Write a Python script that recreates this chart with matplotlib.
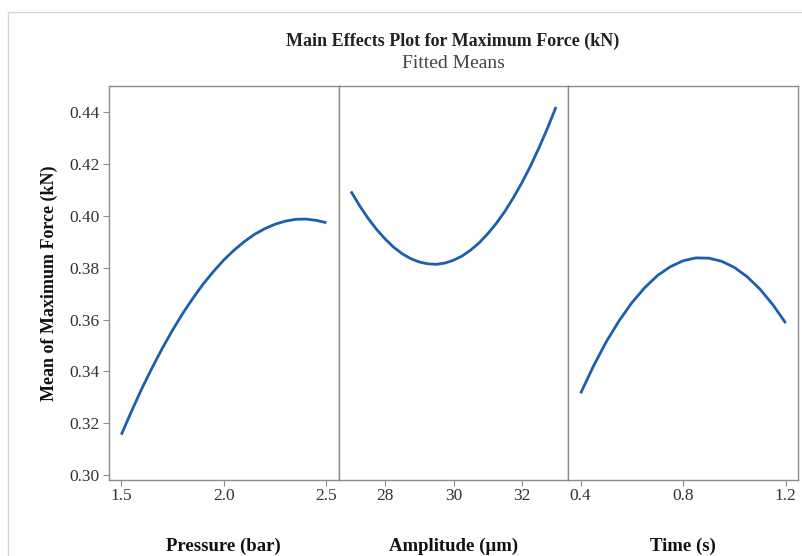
import matplotlib.pyplot as plt
from matplotlib.patches import Rectangle

plt.rcParams['font.family'] = ['Liberation Serif', 'DejaVu Serif']

# Pressure (bar) fitted means
pressure = [1.50, 1.55, 1.60, 1.65, 1.70, 1.75, 1.80, 1.85, 1.90, 1.95, 2.00,
            2.05, 2.10, 2.15, 2.20, 2.25, 2.30, 2.35, 2.40, 2.45, 2.50]
force_p = [0.3155, 0.3246, 0.3333, 0.3413, 0.3489, 0.3559, 0.3624, 0.3683, 0.3738, 0.3786, 0.3830,
           0.3868, 0.3901, 0.3929, 0.3951, 0.3968, 0.3980, 0.3987, 0.3988, 0.3983, 0.3974]

# Amplitude (um) fitted means
amplitude = [27.0, 27.25, 27.5, 27.75, 28.0, 28.25, 28.5, 28.75, 29.0, 29.25, 29.5, 29.75,
             30.0, 30.25, 30.5, 30.75, 31.0, 31.25, 31.5, 31.75, 32.0, 32.25, 32.5, 32.75, 33.0]
force_a = [0.4095, 0.4040, 0.3991, 0.3948, 0.3911, 0.3879, 0.3854, 0.3835, 0.3822, 0.3815,
           0.3813, 0.3818, 0.3829, 0.3845, 0.3868, 0.3896, 0.3931, 0.3971, 0.4017, 0.4070,
           0.4128, 0.4192, 0.4263, 0.4339, 0.4421]

# Time (s) fitted means
time_s = [0.40, 0.45, 0.50, 0.55, 0.60, 0.65, 0.70, 0.75, 0.80, 0.85, 0.90,
          0.95, 1.00, 1.05, 1.10, 1.15, 1.20]
force_t = [0.3315, 0.3420, 0.3514, 0.3595, 0.3665, 0.3723, 0.3770, 0.3804, 0.3827, 0.3838, 0.3837,
           0.3825, 0.3801, 0.3765, 0.3717, 0.3657, 0.3586]

yticks = [0.30, 0.32, 0.34, 0.36, 0.38, 0.40, 0.42, 0.44]
panels = [
    (pressure, force_p, [1.5, 2.0, 2.5], ['1.5', '2.0', '2.5'], 'Pressure (bar)'),
    (amplitude, force_a, [28, 30, 32], ['28', '30', '32'], 'Amplitude (µm)'),
    (time_s, force_t, [0.4, 0.8, 1.2], ['0.4', '0.8', '1.2'], 'Time (s)'),
]

fig = plt.figure(figsize=(8.02, 5.56), dpi=100)
fig.patches.append(Rectangle((8 / 802, -0.01), 1.0, 1 - 12 / 556 + 0.01,
                             transform=fig.transFigure, fill=False,
                             edgecolor='#d4d4d4', linewidth=1.0))

gs = fig.add_gridspec(1, 3, left=109 / 802, right=798 / 802,
                      bottom=1 - 480 / 556, top=1 - 86 / 556, wspace=0)

line_color = '#1b5fae'
spine_color = '#8c8c8c'

for i, (x, y, ticks, labels, name) in enumerate(panels):
    ax = fig.add_subplot(gs[0, i])
    ax.plot(x, y, color=line_color, linewidth=2.0, solid_capstyle='butt')
    pad = (max(x) - min(x)) * 0.06
    ax.set_xlim(min(x) - pad, max(x) + pad)
    ax.set_ylim(0.298, 0.4502)
    ax.set_xticks(ticks)
    ax.set_xticklabels(labels)
    ax.set_xlabel(name, fontsize=13.5, fontweight='bold', labelpad=24, color='#111111')
    for s in ax.spines.values():
        s.set_color(spine_color)
        s.set_linewidth(1.0)
    ax.tick_params(axis='x', direction='out', length=4, color=spine_color,
                   labelsize=12.5, labelcolor='#333333', pad=2)
    if i == 0:
        ax.set_yticks(yticks)
        ax.set_yticklabels(['%.2f' % v for v in yticks])
        ax.tick_params(axis='y', direction='out', length=4, color=spine_color,
                       labelsize=12.5, labelcolor='#333333', pad=3)
        ax.set_ylabel('Mean of Maximum Force (kN)', fontsize=13, fontweight='bold',
                      labelpad=8, color='#111111')
    else:
        ax.set_yticks([])

fig.text(453 / 802, 1 - 41 / 556, 'Main Effects Plot for Maximum Force (kN)',
         ha='center', va='center', fontsize=13, fontweight='bold', color='#222222')
fig.text(453 / 802, 1 - 63 / 556, 'Fitted Means', ha='center', va='center',
         fontsize=14, color='#444444')

fig.savefig('out.png', dpi=100)
